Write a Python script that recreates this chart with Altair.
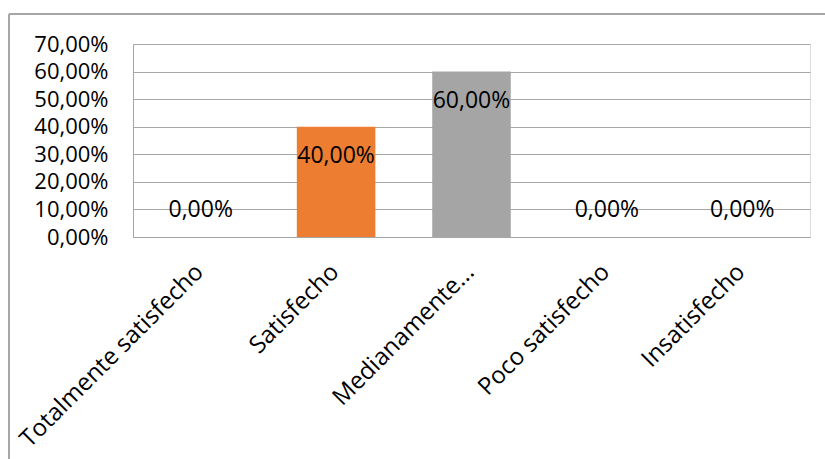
import altair as alt
import pandas as pd

categories = ["Totalmente satisfecho", "Satisfecho", "Medianamente...", "Poco satisfecho", "Insatisfecho"]
values = [0.0, 0.40, 0.60, 0.0, 0.0]
colors = ["#4472C4", "#ED7D31", "#A5A5A5", "#FFC000", "#5B9BD5"]
y_ticks = [0, 0.1, 0.2, 0.3, 0.4, 0.5, 0.6, 0.7]

df = pd.DataFrame({"cat": categories, "val": values})

FONT = "Open Sans"
W, H = 677, 193

x_enc = alt.X("cat:N", sort=categories, title=None,
              scale=alt.Scale(paddingInner=0.42, paddingOuter=0.21),
              axis=alt.Axis(labelAngle=-45, labelAlign="right", labelBaseline="alphabetic",
                            labelFont=FONT, labelFontSize=24, labelColor="#000000",
                            labelPadding=36, labelOffset=4, ticks=False, domainColor="#A6A6A6",
                            domainWidth=1, labelLimit=400, labelOverlap=False))
y_enc = alt.Y("val:Q", title=None,
              scale=alt.Scale(domain=[0, 0.7], nice=False, zero=True),
              axis=alt.Axis(values=y_ticks, labelExpr="replace(format(datum.value, '.2%'), '.', ',')",
                            labelFont=FONT, labelFontSize=22, labelColor="#000000",
                            labelPadding=25, ticks=False, grid=True, gridColor="#A6A6A6",
                            gridWidth=1, domain=True, domainColor="#A6A6A6", domainWidth=1,
                            labelOverlap=False, labelBound=False, labelFlush=False))

base = alt.Chart(df)

bars = base.mark_bar().encode(
    x=x_enc,
    y=y_enc,
    color=alt.Color("cat:N", sort=categories,
                    scale=alt.Scale(domain=categories, range=colors), legend=None),
)

lab = base.transform_calculate(
    txt="replace(format(datum.val, '.2%'), '.', ',')"
)

text_pos = lab.transform_filter("datum.val > 0").mark_text(
    font=FONT, fontSize=23, color="#000000", baseline="middle", dy=29
).encode(x=x_enc, y=y_enc, text="txt:N")

text_zero = lab.transform_filter("datum.val <= 0").mark_text(
    font=FONT, fontSize=23, color="#000000", baseline="middle", dy=-27
).encode(x=x_enc, y=y_enc, text="txt:N")

# outer chart-area border (top and left edges visible)
border_top = alt.Chart(df).mark_rule(color="#A6A6A6", strokeWidth=1.5).encode(
    x=alt.value(-124), x2=alt.value(720), y=alt.value(-30)
)
border_left = alt.Chart(df).mark_rule(color="#A6A6A6", strokeWidth=1.5).encode(
    x=alt.value(-124), y=alt.value(-30), y2=alt.value(440)
)

chart = alt.layer(bars, text_pos, text_zero, border_top, border_left).properties(
    width=W, height=H,
    autosize=alt.AutoSizeParams(type="none"),
    padding={"left": 133, "top": 44, "right": 15, "bottom": 222},
).configure_view(stroke=None).configure(background="#FFFFFF")

chart.save("out.html", embed_options={"renderer": "svg", "actions": False})
